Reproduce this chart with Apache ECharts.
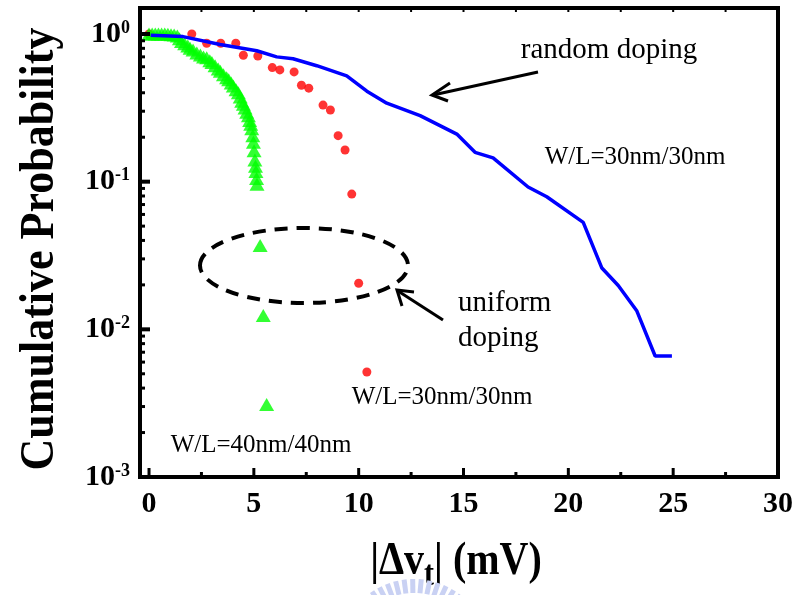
<!DOCTYPE html>
<html>
<head>
<meta charset="utf-8">
<script src="https://cdn.jsdelivr.net/npm/echarts@6.0.0/dist/echarts.min.js"></script>
<style>
  html, body { margin: 0; padding: 0; background: #fff; }
  #chart { width: 797px; height: 595px; }
</style>
</head>
<body>
<div id="chart"></div>
<script>
// Threshold-voltage shift |ΔVt| (mV) vs. cumulative probability

// random doping, W/L = 30nm/30nm (solid blue line)
const randomX = [0.08, 1.62, 3.39, 5.14, 6.09, 6.87, 8.0, 9.43, 10.39, 11.34, 12.93, 14.68,
                 15.55, 16.41, 18.08, 18.97, 20.71, 21.6, 22.38, 23.27, 24.14, 24.94];
const randomP = [0.98, 0.96, 0.85, 0.77, 0.70, 0.68, 0.61, 0.52, 0.41, 0.34, 0.28, 0.21,
                 0.158, 0.145, 0.092, 0.079, 0.053, 0.026, 0.0198, 0.0133, 0.0066, 0.0066];

// uniform doping, W/L = 30nm/30nm (red dots)
const uni30X = [0.0, 2.04, 2.75, 3.42, 4.14, 4.5, 5.19, 5.88, 6.24, 6.92, 7.27, 7.62,
                8.30, 8.65, 9.02, 9.35, 9.67, 10.0, 10.39];
const uni30P = [1.0, 1.0, 0.865, 0.865, 0.865, 0.718, 0.71, 0.592, 0.571, 0.554, 0.45, 0.43,
                0.33, 0.306, 0.205, 0.164, 0.0824, 0.0205, 0.00514];

// uniform doping, W/L = 40nm/40nm (green triangles)
const uni40X = [0.0, 0.15, 0.3, 0.45, 0.6, 0.75, 0.9, 1.05, 1.2, 1.35,
                1.45, 1.55, 1.7, 1.85, 1.96, 2.1, 2.28, 2.45, 2.6, 2.75,
                2.9, 3.0, 3.15, 3.3, 3.4, 3.55, 3.7, 3.8, 3.92, 4.02,
                4.15, 4.26, 4.35, 4.42, 4.5, 4.58, 4.66, 4.74, 4.8, 4.85,
                4.9, 4.95, 4.98, 5.01, 5.05, 5.08, 5.1, 5.13, 5.15,
                5.30, 5.45, 5.61];
const uni40P = [1.0, 1.0, 1.0, 1.0, 1.0, 1.0, 0.995, 0.99, 0.985, 0.97,
                0.93, 0.89, 0.86, 0.83, 0.80, 0.78, 0.745, 0.72, 0.70, 0.69,
                0.66, 0.64, 0.61, 0.58, 0.56, 0.53, 0.505, 0.49, 0.465, 0.445,
                0.42, 0.40, 0.375, 0.35, 0.335, 0.315, 0.295, 0.28, 0.26, 0.245,
                0.228, 0.205, 0.185, 0.162, 0.14, 0.127, 0.117, 0.105, 0.096,
                0.037, 0.0124, 0.0031];

// axis ticks and labels
const xTickValues = [0, 5, 10, 15, 20, 25, 30];
const xMinorTickValues = [2.5, 7.5, 12.5, 17.5, 22.5, 27.5];
const xTopTickValues = [2.5, 5, 7.5, 10, 12.5, 15, 17.5, 20, 22.5, 25, 27.5];
const yTickValues = [0.001, 0.01, 0.1, 1];
const yMinorTickValues = [0.002, 0.003, 0.004, 0.005, 0.006, 0.007, 0.008, 0.009,
                          0.02, 0.03, 0.04, 0.05, 0.06, 0.07, 0.08, 0.09,
                          0.2, 0.3, 0.4, 0.5, 0.6, 0.7, 0.8, 0.9];

const zip = (xs, ys) => xs.map((x, i) => [x, ys[i]]);
const SERIF = '"Liberation Serif", "Times New Roman", serif';
const X_MIN = -0.43, X_MAX = 30, Y_MIN = 0.001, Y_MAX = 1.5;

// inward tick marks on the frame, placed through the axes
const tickMarks = [].concat(
  xTickValues.map(v => ({ at: [v, Y_MIN], dir: 'up', len: 9, w: 3 })),
  xMinorTickValues.map(v => ({ at: [v, Y_MIN], dir: 'up', len: 5, w: 3 })),
  xTopTickValues.map(v => ({ at: [v, Y_MAX], dir: 'down', len: 4, w: 2 })),
  yTickValues.map(v => ({ at: [X_MIN, v], dir: 'right', len: 10, w: 4 })),
  yMinorTickValues.map(v => ({ at: [X_MIN, v], dir: 'right', len: 5, w: 3 }))
);

// x-axis title |Δv_t| (mV): pieces laid out side by side, subscript dropped
const measure = document.createElement('canvas').getContext('2d');
const textWidth = (txt, font) => { measure.font = font; return measure.measureText(txt).width; };
const titleFont = 'bold 40px ' + SERIF, subFont = 'bold 30px ' + SERIF;
const parts = [
  { text: '|Δv', font: titleFont, dy: 0 },
  { text: 't', font: subFont, dy: 14 },
  { text: '| (mV)', font: titleFont, dy: 0 }
];
const totalW = parts.reduce((s, p) => s + textWidth(p.text, p.font), 0);
let penX = 456 - totalW / 2;
const xTitle = parts.map(p => {
  const el = { type: 'text', silent: true, x: penX, y: 562 + p.dy, scaleY: 1.18,
               style: { text: p.text, font: p.font, fill: '#000',
                        textAlign: 'left', textVerticalAlign: 'middle' } };
  penX += textWidth(p.text, p.font);
  return el;
});

// light-blue emblem strokes peeking in at the bottom edge
const emblem = [];
for (let a = -40; a <= 40; a += 6.5) {
  const r = a * Math.PI / 180, cx = 414, cy = 655;
  emblem.push({
    type: 'line', silent: true,
    shape: { x1: cx + 62 * Math.sin(r), y1: cy - 62 * Math.cos(r),
             x2: cx + 76 * Math.sin(r), y2: cy - 76 * Math.cos(r) },
    style: { stroke: '#c9d1f3', lineWidth: 5 }
  });
}

const chart = echarts.init(document.getElementById('chart'), null, { renderer: 'canvas' });

chart.setOption({
  animation: false,
  backgroundColor: '#ffffff',
  grid: {
    left: 140, right: 19, top: 8, bottom: 118,
    show: true, borderColor: '#000', borderWidth: 4,
    backgroundColor: 'transparent',
    outerBoundsMode: 'none', containLabel: false
  },
  xAxis: {
    type: 'value', min: X_MIN, max: X_MAX,
    axisLine: { show: false, onZero: false },
    splitLine: { show: false },
    axisTick: { show: false },
    axisLabel: { customValues: xTickValues, margin: 12, color: '#000',
                 fontSize: 30, fontWeight: 'bold', fontFamily: SERIF }
  },
  yAxis: {
    type: 'log', logBase: 10, min: Y_MIN, max: Y_MAX,
    axisLine: { show: false, onZero: false },
    splitLine: { show: false },
    axisTick: { show: false },
    axisLabel: {
      customValues: yTickValues, margin: 10,
      formatter: v => '{b|10}{s|' + Math.round(Math.log10(v)) + '}',
      rich: {
        b: { fontSize: 30, fontWeight: 'bold', fontFamily: SERIF, color: '#000',
             lineHeight: 30, verticalAlign: 'bottom' },
        s: { fontSize: 18, fontWeight: 'bold', fontFamily: SERIF, color: '#000',
             lineHeight: 18, verticalAlign: 'top' }
      }
    }
  },
  series: [
    {
      name: 'frame ticks', type: 'custom', clip: false, silent: true, z: 5,
      data: tickMarks.map(t => t.at),
      renderItem: (params, api) => {
        const t = tickMarks[params.dataIndex];
        const p = api.coord([api.value(0), api.value(1)]);
        const q = t.dir === 'up' ? [p[0], p[1] - t.len]
                : t.dir === 'down' ? [p[0], p[1] + t.len]
                : [p[0] + t.len, p[1]];
        return { type: 'line', shape: { x1: p[0], y1: p[1], x2: q[0], y2: q[1] },
                 style: { stroke: '#000', lineWidth: t.w } };
      }
    },
    {
      name: 'uniform 30nm', type: 'scatter',
      data: zip(uni30X, uni30P), symbol: 'circle', symbolSize: 9,
      itemStyle: { color: '#ff0000' }, z: 2
    },
    {
      name: 'uniform 40nm', type: 'scatter',
      data: zip(uni40X, uni40P), symbol: 'triangle', symbolSize: [15, 13],
      itemStyle: { color: '#00ff00' }, z: 3
    },
    {
      name: 'random 30nm', type: 'line',
      data: zip(randomX, randomP), showSymbol: false, symbol: 'none',
      lineStyle: { color: '#0000ff', width: 3.5 }, z: 4
    }
  ],
  graphic: [
    { type: 'text', x: 40, y: 249, rotation: Math.PI / 2, scaleY: 1.12, silent: true,
      style: { text: 'Cumulative Probability', font: 'bold 44px ' + SERIF, fill: '#000',
               textAlign: 'center', textVerticalAlign: 'middle' } },
    { type: 'text', x: 609, y: 50, silent: true,
      style: { text: 'random doping', font: '29px ' + SERIF, fill: '#000',
               textAlign: 'center', textVerticalAlign: 'middle' } },
    { type: 'text', x: 635, y: 157, silent: true,
      style: { text: 'W/L=30nm/30nm', font: '25px ' + SERIF, fill: '#000',
               textAlign: 'center', textVerticalAlign: 'middle' } },
    { type: 'text', x: 458, y: 303, silent: true,
      style: { text: 'uniform', font: '29px ' + SERIF, fill: '#000',
               textAlign: 'left', textVerticalAlign: 'middle' } },
    { type: 'text', x: 458, y: 338, silent: true,
      style: { text: 'doping', font: '29px ' + SERIF, fill: '#000',
               textAlign: 'left', textVerticalAlign: 'middle' } },
    { type: 'text', x: 442, y: 397, silent: true,
      style: { text: 'W/L=30nm/30nm', font: '25px ' + SERIF, fill: '#000',
               textAlign: 'center', textVerticalAlign: 'middle' } },
    { type: 'text', x: 261, y: 445, silent: true,
      style: { text: 'W/L=40nm/40nm', font: '25px ' + SERIF, fill: '#000',
               textAlign: 'center', textVerticalAlign: 'middle' } },
    // dashed outline around the uniform-doping tails
    { type: 'ellipse', silent: true,
      shape: { cx: 304, cy: 265.5, rx: 104, ry: 37.5 },
      style: { fill: 'none', stroke: '#000', lineWidth: 4, lineDash: [13, 9] } },
    // arrow to the random-doping curve
    { type: 'line', silent: true, shape: { x1: 538, y1: 72, x2: 433, y2: 95 },
      style: { stroke: '#000', lineWidth: 3 } },
    { type: 'polyline', silent: true, shape: { points: [[450, 83], [432, 95], [448, 101]] },
      style: { stroke: '#000', lineWidth: 3, fill: 'none' } },
    // arrow to the dashed outline
    { type: 'line', silent: true, shape: { x1: 443, y1: 320, x2: 398, y2: 291 },
      style: { stroke: '#000', lineWidth: 3 } },
    { type: 'polyline', silent: true, shape: { points: [[414, 292], [397, 290], [402, 306]] },
      style: { stroke: '#000', lineWidth: 3, fill: 'none' } }
  ].concat(xTitle, emblem)
});
</script>
</body>
</html>
